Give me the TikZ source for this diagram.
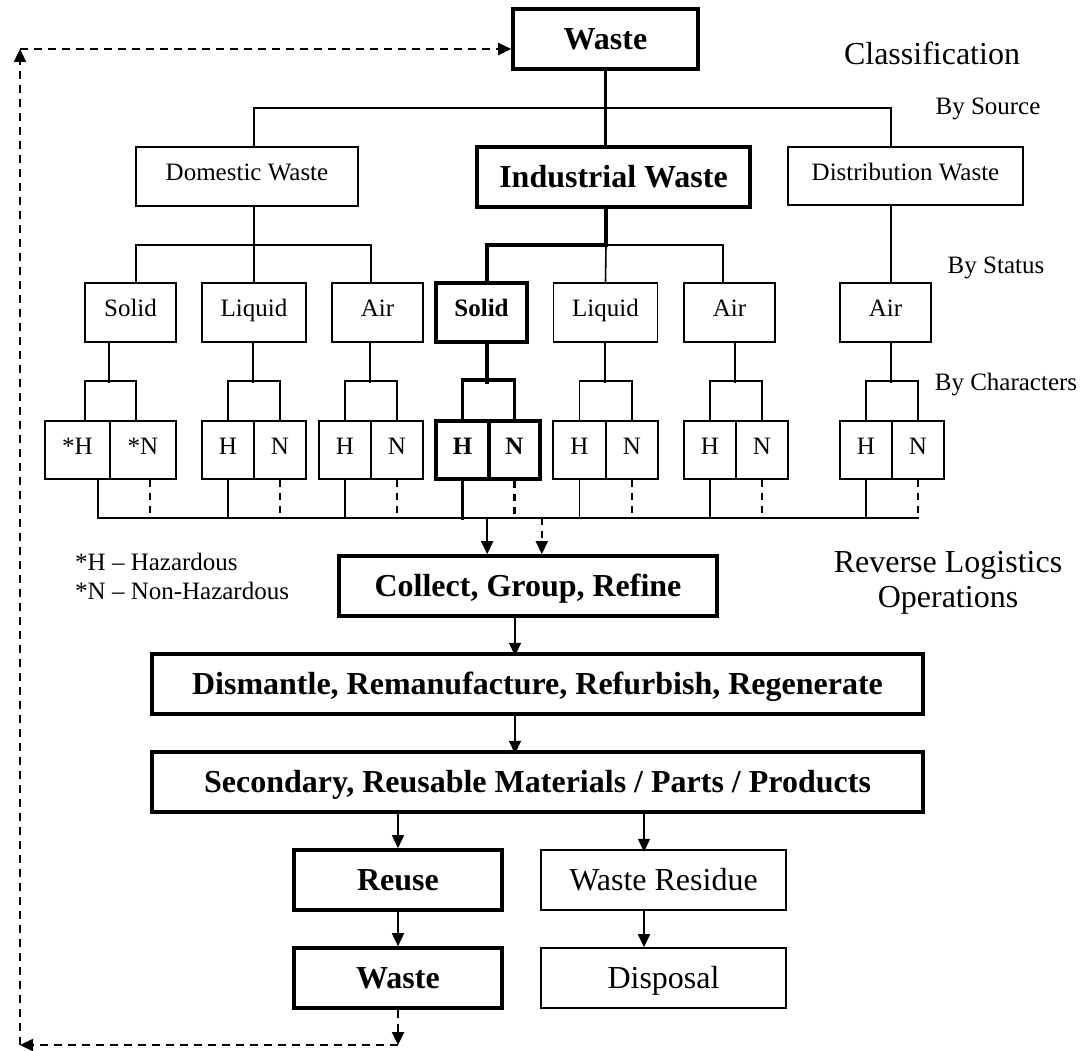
\documentclass[tikz,border=0pt]{standalone}
\usepackage{fontspec}
\setmainfont{Liberation Serif}
\usetikzlibrary{arrows.meta}
\newcommand\fsA{\fontsize{25}{30}\selectfont}
\newcommand\fsB{\fontsize{32}{36}\selectfont}
\begin{document}
\begin{tikzpicture}[x=1pt,y=-1pt,
  nb/.style={draw, line width=1.6pt, inner sep=0pt, font=\fsA, text height=16.5pt, text depth=8pt},
  sb/.style={draw, line width=3.6pt, inner sep=0pt, font=\fsA\bfseries, text height=16.5pt, text depth=8pt},
  tb/.style={draw, line width=3.6pt, inner sep=0pt, font=\fsB\bfseries, text height=21pt, text depth=0pt},
  lb/.style={draw, line width=1.6pt, inner sep=0pt, font=\fsB, text height=21pt, text depth=0pt},
  tl/.style={line width=1.6pt},
  tk/.style={line width=3.6pt},
  dsh/.style={dash pattern=on 7pt off 6pt},
  fb/.style={line width=2.4pt, dash pattern=on 8pt off 6pt},
  tip/.style={-{Triangle[length=13pt,width=12pt]}},
  stat/.style={minimum height=59},
  hn/.style={minimum height=58},
]
\useasboundingbox (0,0) rectangle (1084,1051);
% top
\node[tb, minimum width=185, minimum height=60] (w0) at (605.5,39) {Waste};
\node[nb, minimum width=222, minimum height=59] (dom) at (247,176.5) {Domestic Waste};
\node[tb, minimum width=273, minimum height=60] (ind) at (613.5,177) {Industrial Waste};
\node[nb, minimum width=235, minimum height=58] (dist) at (905.5,176) {Distribution Waste};
% status
\node[nb, stat, minimum width=91] (s1) at (130.5,312.5) {Solid};
\node[nb, stat, minimum width=104] (l1) at (254,312.5) {Liquid};
\node[nb, stat, minimum width=91] (a1) at (377.5,312.5) {Air};
\node[sb, stat, minimum width=91] (s2) at (481.5,312.5) {Solid};
\node[nb, stat, minimum width=104] (l2) at (605.5,312.5) {Liquid};
\node[nb, stat, minimum width=91] (a2) at (729.5,312.5) {Air};
\node[nb, stat, minimum width=91] (a3) at (885.5,312.5) {Air};
% characters
\node[nb, hn, minimum width=65] (h1) at (77.5,450) {*H};
\node[nb, hn, minimum width=66] (n1) at (143,450) {*N};
\node[nb, hn, minimum width=52] (h2) at (228,450) {H};
\node[nb, hn, minimum width=52] (n2) at (280,450) {N};
\node[nb, hn, minimum width=52] (h3) at (345,450) {H};
\node[nb, hn, minimum width=52] (n3) at (397,450) {N};
\node[sb, hn, minimum width=53] (h4) at (462.5,450) {H};
\node[sb, hn, minimum width=51] (n4) at (514.5,450) {N};
\node[nb, hn, minimum width=53] (h5) at (579.5,450) {H};
\node[nb, hn, minimum width=52] (n5) at (632,450) {N};
\node[nb, hn, minimum width=52] (h6) at (710,450) {H};
\node[nb, hn, minimum width=52] (n6) at (762,450) {N};
\node[nb, hn, minimum width=52] (h7) at (866,450) {H};
\node[nb, hn, minimum width=52] (n7) at (918,450) {N};
% operations
\node[tb, minimum width=378, minimum height=60] (col) at (528,586) {Collect, Group, Refine};
\node[tb, minimum width=771, minimum height=60] (dis) at (537.5,684) {Dismantle, Remanufacture, Refurbish, Regenerate};
\node[tb, minimum width=771, minimum height=60] (sec) at (537.5,782) {Secondary, Reusable Materials / Parts / Products};
\node[tb, minimum width=208, minimum height=60] (reu) at (398,880) {Reuse};
\node[lb, minimum width=245, minimum height=60] (res) at (663.5,880) {Waste Residue};
\node[tb, minimum width=208, minimum height=60] (w1) at (398,978) {Waste};
\node[lb, minimum width=245, minimum height=60] (dsp) at (663.5,978) {Disposal};
% labels
\node[font=\fsB] (cls) at (932,53) {Classification};
\node[font=\fsA] (bsrc) at (988,109) {By Source};
\node[font=\fsA] (bst) at (996,268) {By Status};
\node[font=\fsA] (bch) at (1006,385) {By Characters};
\node[font=\fsB] (rl1) at (948,565) {Reverse Logistics};
\node[font=\fsB] (rl2) at (948,600) {Operations};
\node[font=\fsA, anchor=west, inner sep=0pt] (lg1) at (75,562) {*H \textendash\ Hazardous};
\node[font=\fsA, anchor=west, inner sep=0pt] (lg2) at (75,591) {*N \textendash\ Non-Hazardous};
% source level connectors
\coordinate (j0) at (606,108);
\draw[tk] (w0.south) -- (w0.south |- ind.north);
\draw[tl] ([xshift=7]dom.north) |- (j0) -| (n7.west |- dist.north);
% domestic
\coordinate (j1) at (254,245);
\draw[tl] (dom.south -| l1.north) -- (l1.north);
\draw[tl] ([xshift=5.5]s1.north) |- (j1) -| ([xshift=-6.5]a1.north);
% industrial
\coordinate (j2) at (606,245);
\draw[tk] (ind.south -| j2) -- (j2) -| (n4.west |- s2.north);
\draw[tl] (j2) -- (l2.north);
\draw[tl] (j2) -| ([xshift=-6.5]a2.north);
% distribution
\draw[tl] (dist.south -| n7.west) -- (a3.north -| n7.west);
% status to characters
\draw[tl] (s1.south -| n1.west) -- ++(0,40);
\draw[tl] ([xshift=7.5]h1.north) -- ++(0,-39) -| ([xshift=-7]n1.north);
\draw[tl] (l1.south -| n2.west) -- ++(0,40);
\draw[tl] (h2.north) -- ++(0,-39) -| (n2.north);
\draw[tl] (a1.south -| n3.west) -- ++(0,40);
\draw[tl] (h3.north) -- ++(0,-39) -| (n3.north);
\draw[tk] (s2.south -| n4.west) -- ++(0,40);
\draw[tk] (h4.north) -- ++(0,-39) -| (n4.north);
\draw[tl] (l2.south -| n5.west) -- ++(0,40);
\draw[tl] (h5.north) -- ++(0,-39) -| (n5.north);
\draw[tl] (a2.south -| n6.west) -- ++(0,40);
\draw[tl] (h6.north) -- ++(0,-39) -| (n6.north);
\draw[tl] (a3.south -| n7.west) -- ++(0,40);
\draw[tl] (h7.north) -- ++(0,-39) -| (n7.north);
% characters to bus
\coordinate (busL) at (98,518);
\coordinate (busR) at (919,518);
\draw[tl] ([xshift=20.5]h1.south) -- ++(0,39);
\draw[tl, dsh] ([xshift=7]n1.south) -- ++(0,39);
\draw[tl] (h2.south) -- ++(0,39);
\draw[tl, dsh] (n2.south) -- ++(0,39);
\draw[tl] (h3.south) -- ++(0,39);
\draw[tl, dsh] (n3.south) -- ++(0,39);
\draw[tk] (h4.south) -- ++(0,39);
\draw[tk, dsh] (n4.south) -- ++(0,39);
\draw[tl] (h5.south) -- ++(0,39);
\draw[tl, dsh] (n5.south) -- ++(0,39);
\draw[tl] (h6.south) -- ++(0,39);
\draw[tl, dsh] (n6.south) -- ++(0,39);
\draw[tl] (h7.south) -- ++(0,39);
\draw[tl, dsh] (n7.south) -- ++(0,39);
\draw[tl] (busL) -- (busR);
\draw[tl, tip] (n4.west |- busL) -- (n4.west |- col.north);
\draw[tl, dsh, tip] (n4.east |- busL) -- (n4.east |- col.north);
% operations arrows
\draw[tl, tip] ([xshift=-13]col.south) -- ++(0,38);
\draw[tl, tip] ([xshift=-22.5]dis.south) -- ++(0,38);
\draw[tl, tip] (reu.north |- sec.south) -- (reu.north);
\draw[tl, tip] ([xshift=106.5]sec.south) -- ++(0,38);
\draw[tl, tip] (reu.south) -- (w1.north);
\draw[tl, tip] ([xshift=-19.5]res.south) -- ([xshift=-19.5]dsp.north);
% feedback loop
\coordinate (fb1) at (398,1045);
\coordinate (fb2) at (20,1045);
\coordinate (fb3) at (20,49);
\draw[fb, tip] (w1.south) -- (fb1);
\draw[fb, tip] (fb1) -- (fb2);
\draw[fb, tip] (fb2) -- (fb3);
\draw[fb, tip] (fb3) -- (w0.west |- fb3);
\end{tikzpicture}
\end{document}
